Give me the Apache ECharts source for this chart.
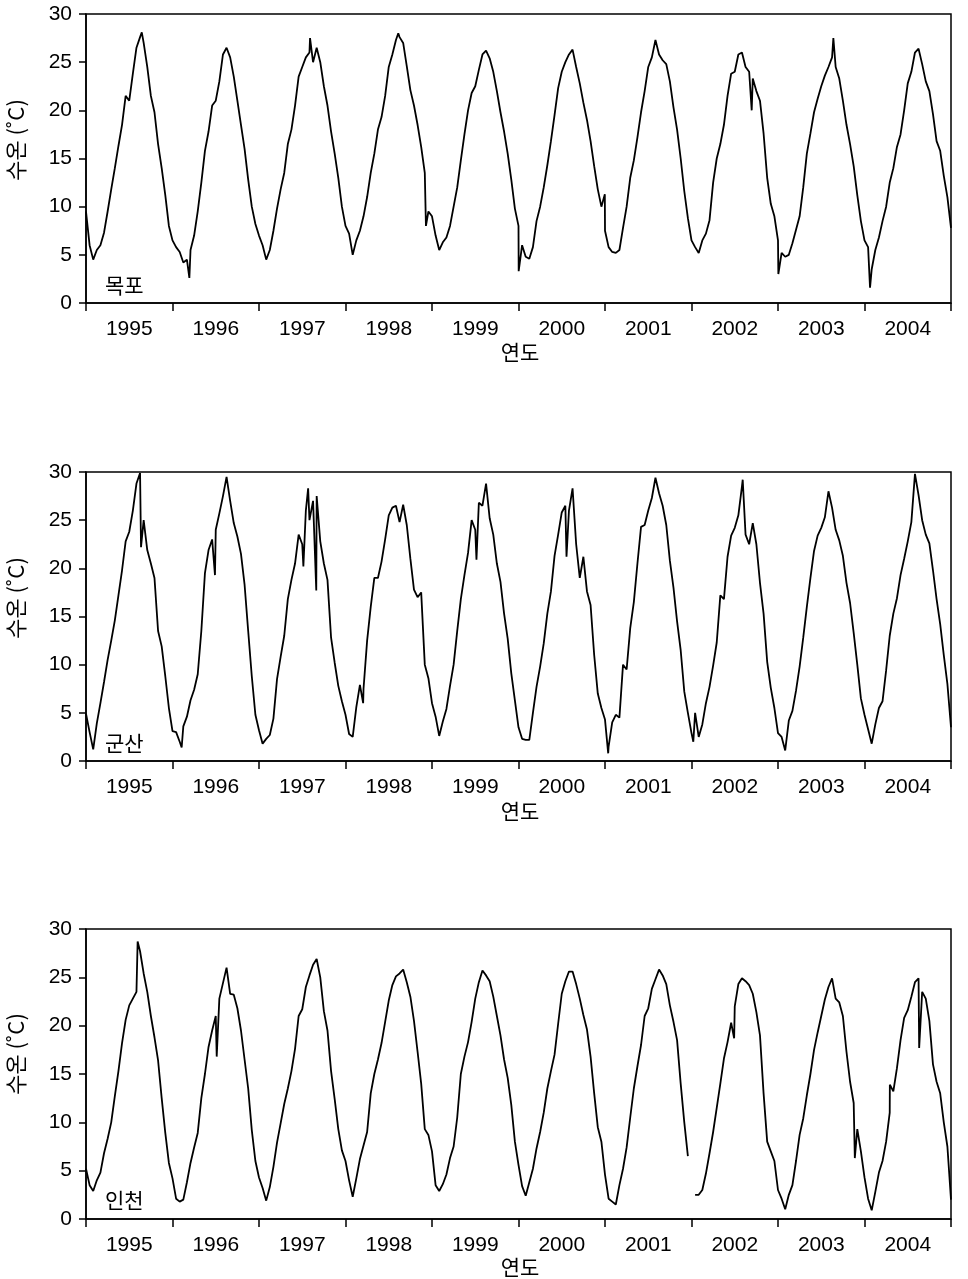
<!DOCTYPE html>
<html>
<head>
<meta charset="utf-8">
<script src="https://cdn.jsdelivr.net/npm/echarts@6/dist/echarts.min.js"></script>
<style>
html,body{margin:0;padding:0;background:#fff;}
#chart{width:968px;height:1279px;}
</style>
</head>
<body>
<div id="chart"></div>
<script>
// ---- data (semi-monthly readings, 24 per year, 1995.0 .. 2005.0) ----
const yearLabels = ['1995','1996','1997','1998','1999','2000','2001','2002','2003','2004'];
const stationNames = ['목포','군산','인천'];

const mokpo = [
  9.5, 6.0, 4.5, 5.5, 6.0, 7.3, 9.5, 11.8, 14.0, 16.3, 18.5, 21.5, 21.0, 23.8, 26.5, 27.6, 27.0, 24.5, 21.5, 19.8, 16.5, 14.0, 11.2, 8.0,
  6.5, 5.8, 5.3, 4.2, 4.5, 5.5, 7.0, 9.5, 12.5, 15.8, 17.8, 20.5, 21.0, 23.0, 25.8, 26.5, 25.5, 23.5, 21.0, 18.5, 16.0, 12.8, 10.0, 8.2,
  7.0, 6.0, 4.5, 5.5, 7.5, 9.8, 11.8, 13.5, 16.5, 18.0, 20.5, 23.5, 24.5, 25.5, 26.0, 25.0, 26.5, 25.0, 22.5, 20.5, 17.8, 15.5, 13.0, 10.0,
  8.0, 7.2, 5.0, 6.5, 7.5, 9.0, 11.0, 13.5, 15.5, 18.0, 19.3, 21.5, 24.5, 25.8, 27.3, 27.6, 27.0, 24.6, 22.1, 20.5, 18.5, 16.2, 13.5, 9.5,
  9.0, 7.0, 5.5, 6.3, 6.8, 8.0, 10.0, 12.0, 14.8, 17.5, 20.0, 21.8, 22.5, 24.2, 25.8, 26.2, 25.4, 24.0, 22.0, 19.8, 17.8, 15.5, 12.8, 9.8,
  8.0, 6.0, 4.8, 4.6, 5.8, 8.5, 10.0, 12.0, 14.3, 16.8, 19.5, 22.3, 24.0, 25.0, 25.8, 26.3, 24.5, 22.8, 20.8, 19.0, 16.8, 14.2, 11.8, 10.0,
  7.5, 5.8, 5.3, 5.2, 5.5, 7.8, 10.0, 13.0, 14.8, 17.2, 19.8, 22.0, 24.5, 25.5, 27.3, 25.8, 25.2, 24.8, 23.0, 20.3, 18.0, 15.0, 11.6, 8.8,
  6.5, 5.8, 5.2, 6.5, 7.2, 8.6, 12.5, 15.0, 16.5, 18.5, 21.5, 23.8, 24.0, 25.8, 26.0, 24.5, 24.0, 23.3, 22.0, 21.0, 17.6, 13.0, 10.3, 9.0,
  6.5, 5.2, 4.8, 5.0, 6.2, 7.6, 9.0, 12.0, 15.5, 17.6, 19.8, 21.2, 22.5, 23.6, 24.5, 25.5, 24.5, 23.3, 21.0, 18.5, 16.5, 14.2, 11.2, 8.5,
  6.5, 5.8, 3.5, 5.5, 6.8, 8.5, 10.0, 12.5, 14.0, 16.2, 17.5, 20.0, 22.8, 24.0, 26.0, 26.4, 24.8, 23.0, 22.0, 19.6, 16.8, 15.8, 13.2, 11.0,
  7.8
];
const mokpoSpikes = [[1995.645, 28.1], [1996.195, 2.6], [1997.59, 27.5], [1998.61, 28.0], [1998.93, 8.0],
  [2000.002, 3.3], [2000.998, 11.3], [2002.696, 20.0], [2003.004, 3.0], [2003.64, 27.5], [2004.064, 1.6]];

const gunsan = [
  4.9, 3.0, 1.2, 3.9, 6.0, 8.2, 10.5, 12.5, 14.6, 17.2, 19.8, 22.8, 23.8, 26.0, 28.8, 29.9, 25.0, 21.9, 20.5, 19.0, 13.5, 11.9, 8.8, 5.5,
  3.1, 3.0, 2.0, 3.6, 4.6, 6.3, 7.4, 9.0, 13.5, 19.5, 21.9, 23.0, 24.0, 25.7, 27.5, 29.5, 27.0, 24.7, 23.3, 21.5, 18.3, 13.5, 8.8, 4.8,
  3.2, 1.8, 2.3, 2.7, 4.4, 8.5, 10.8, 13.0, 16.8, 18.8, 20.5, 23.5, 22.5, 26.0, 25.0, 27.0, 27.5, 22.8, 20.5, 18.8, 12.8, 10.2, 7.8, 6.2,
  4.8, 2.8, 2.5, 5.6, 7.9, 7.5, 12.5, 16.0, 19.0, 19.0, 20.7, 23.0, 25.5, 26.3, 26.5, 24.8, 26.6, 24.5, 21.0, 17.8, 17.0, 17.5, 10.0, 8.6,
  6.0, 4.6, 2.6, 4.1, 5.4, 7.8, 10.0, 13.5, 16.8, 19.3, 21.6, 25.0, 24.0, 26.8, 26.5, 28.8, 25.2, 23.5, 20.5, 18.6, 15.3, 12.7, 9.1, 6.3,
  3.5, 2.3, 2.2, 2.2, 5.0, 7.7, 9.8, 12.2, 15.3, 17.6, 21.3, 23.5, 25.8, 26.5, 26.0, 28.3, 22.5, 19.0, 21.2, 17.6, 16.2, 11.0, 7.0, 5.5,
  4.3, 1.5, 4.0, 4.8, 4.5, 10.0, 9.5, 13.8, 16.5, 20.5, 24.3, 24.5, 26.0, 27.3, 29.4, 27.8, 26.5, 24.5, 20.8, 18.0, 14.5, 11.5, 7.2, 5.0,
  2.9, 5.0, 2.5, 3.8, 6.0, 7.7, 9.9, 12.3, 17.2, 16.8, 21.2, 23.4, 24.2, 25.5, 28.5, 23.5, 22.5, 24.7, 22.5, 18.5, 15.3, 10.3, 7.6, 5.5,
  2.9, 2.5, 1.1, 4.2, 5.2, 7.3, 9.8, 12.8, 16.0, 19.0, 21.8, 23.4, 24.2, 25.3, 28.0, 26.3, 24.0, 22.9, 21.3, 18.5, 16.4, 13.3, 10.0, 6.5,
  4.8, 3.3, 1.8, 3.8, 5.5, 6.2, 9.4, 13.0, 15.3, 16.9, 19.3, 21.0, 22.8, 24.8, 29.8, 27.6, 25.0, 23.5, 22.6, 19.8, 16.8, 14.2, 11.0, 8.0,
  3.5
];
const gunsanSpikes = [[1995.636, 22.2], [1996.106, 1.4], [1996.491, 19.3], [1997.513, 20.2], [1997.568, 28.3], [1997.662, 17.7],
  [1998.204, 6.0], [1999.514, 20.9], [2000.555, 21.2], [2001.037, 0.8], [2002.021, 2.0], [2002.592, 29.2]];

const incheon = [
  5.2, 3.5, 2.9, 4.0, 4.8, 6.8, 8.3, 10.0, 12.7, 15.3, 18.2, 20.6, 22.1, 22.8, 23.5, 27.7, 25.4, 23.5, 21.0, 18.8, 16.4, 12.5, 8.9, 5.8,
  4.2, 2.1, 1.8, 2.0, 3.8, 5.8, 7.4, 8.9, 12.5, 15.0, 17.8, 19.5, 21.0, 22.8, 24.4, 26.0, 23.3, 23.2, 21.8, 19.5, 16.5, 13.5, 9.2, 6.0,
  4.3, 3.2, 1.9, 3.3, 5.4, 7.9, 9.9, 11.9, 13.5, 15.3, 17.6, 21.0, 21.7, 24.0, 25.2, 26.3, 26.9, 25.0, 21.5, 19.5, 15.3, 12.4, 9.3, 7.1,
  6.0, 4.0, 2.3, 4.2, 6.2, 7.6, 9.0, 13.0, 15.0, 16.5, 18.2, 20.4, 22.6, 24.2, 25.1, 25.4, 25.8, 24.5, 23.0, 20.5, 17.3, 14.0, 9.3, 8.7,
  7.0, 3.5, 2.9, 3.6, 4.6, 6.3, 7.5, 10.5, 15.0, 16.8, 18.3, 20.4, 22.8, 24.5, 25.7, 25.2, 24.6, 23.0, 21.0, 19.0, 16.5, 14.6, 11.8, 8.0,
  5.6, 3.4, 2.4, 3.8, 5.2, 7.3, 9.0, 11.0, 13.5, 15.3, 17.0, 20.2, 23.3, 24.6, 25.6, 25.6, 24.3, 22.8, 21.1, 19.6, 16.8, 13.0, 9.5, 8.0,
  4.6, 2.1, 1.8, 1.5, 3.5, 5.2, 7.4, 10.5, 13.5, 15.8, 18.0, 21.0, 21.8, 23.8, 24.8, 25.8, 25.2, 24.3, 22.1, 20.4, 18.5, 14.0, 10.0, 6.5,
  '-', 2.5, 2.5, 3.0, 4.7, 6.8, 9.0, 11.5, 14.0, 16.6, 18.3, 20.3, 22.0, 24.3, 24.9, 24.6, 24.2, 23.3, 21.4, 19.0, 13.0, 8.0, 7.0, 6.0,
  3.0, 2.1, 1.0, 2.5, 3.5, 6.0, 8.7, 10.4, 12.8, 15.0, 17.5, 19.3, 21.0, 22.7, 24.0, 24.9, 22.8, 22.4, 21.0, 17.3, 14.2, 12.0, 9.3, 7.0,
  4.3, 2.1, 0.9, 2.8, 4.8, 6.0, 8.0, 11.0, 13.2, 15.6, 18.5, 20.8, 21.6, 23.0, 24.5, 24.9, 23.5, 22.8, 20.5, 16.0, 14.2, 13.0, 10.0, 7.5,
  2.0
];
const incheonSpikes = [[1995.597, 28.7], [1996.511, 16.8], [2002.493, 18.7], [2003.888, 6.3], [2004.293, 13.9], [2004.632, 17.7]];

const startYear = 1995;
const perYear = 24;
const yTicks = { min: 0, max: 30, interval: 5 };

// ---- build ----
function buildSeries(values, spikes) {
  const pts = values.map((v, i) => [startYear + i / perYear, v]);
  spikes.forEach(s => pts.push([s[0], s[1]]));
  pts.sort((a, b) => a[0] - b[0]);
  return pts;
}
const allValues = [buildSeries(mokpo, mokpoSpikes), buildSeries(gunsan, gunsanSpikes), buildSeries(incheon, incheonSpikes)];

const FONT = "'Liberation Sans', Arial, 'Noto Sans CJK KR', sans-serif";
const KFONT = "'Noto Sans CJK KR', 'Liberation Sans', sans-serif";
const tops = [14, 472, 929];
const heights = [289, 289, 290];
const yTitleCenters = [140, 598, 1054];
const xTitleCenters = [352, 811, 1267];
const stationCenters = [285, 743, 1200];

const grids = [], xAxes = [], yAxes = [], series = [], graphics = [];
for (let g = 0; g < 3; g++) {
  grids.push({ left: 86, right: 17, top: tops[g], height: heights[g], show: true, borderColor: '#000', borderWidth: 1.5, backgroundColor: 'transparent' });
  xAxes.push({
    type: 'category', gridIndex: g, data: yearLabels, boundaryGap: true, position: 'bottom',
    axisLine: { show: true, lineStyle: { color: '#000', width: 1.5 } },
    axisTick: { show: true, alignWithLabel: false, length: 8, lineStyle: { color: '#000', width: 1.5 } },
    axisLabel: { interval: 0, color: '#000', fontSize: 21, fontFamily: FONT, margin: 16 },
    splitLine: { show: false }
  });
  xAxes.push({ type: 'value', gridIndex: g, min: startYear, max: startYear + yearLabels.length, show: false });
  yAxes.push({
    type: 'value', gridIndex: g, min: yTicks.min, max: yTicks.max, interval: yTicks.interval,
    axisLine: { show: true, lineStyle: { color: '#000', width: 1.5 } },
    axisTick: { show: true, length: 7, lineStyle: { color: '#000', width: 1.5 } },
    axisLabel: { color: '#000', fontSize: 21, fontFamily: FONT, margin: 14 },
    splitLine: { show: false }
  });
  series.push({
    type: 'line', xAxisIndex: 2 * g + 1, yAxisIndex: g, data: allValues[g],
    showSymbol: false, symbol: 'none', connectNulls: false, silent: true,
    lineStyle: { color: '#000', width: 1.8 }
  });
  graphics.push({
    type: 'text', x: 16, y: yTitleCenters[g], rotation: Math.PI / 2,
    style: { text: '수온 (˚C)', fontSize: 22, fontFamily: KFONT, fill: '#000', align: 'center', verticalAlign: 'middle' }
  });
  graphics.push({
    type: 'text', x: 520, y: xTitleCenters[g],
    style: { text: '연도', fontSize: 21, fontFamily: KFONT, fill: '#000', align: 'center', verticalAlign: 'middle' }
  });
  graphics.push({
    type: 'text', x: 105, y: stationCenters[g],
    style: { text: stationNames[g], fontSize: 21, fontFamily: KFONT, fill: '#000', align: 'left', verticalAlign: 'middle' }
  });
}

const chart = echarts.init(document.getElementById('chart'), null, { renderer: 'canvas' });
chart.setOption({
  animation: false,
  backgroundColor: '#fff',
  grid: grids, xAxis: xAxes, yAxis: yAxes, series: series,
  graphic: { elements: graphics }
});
</script>
</body>
</html>
